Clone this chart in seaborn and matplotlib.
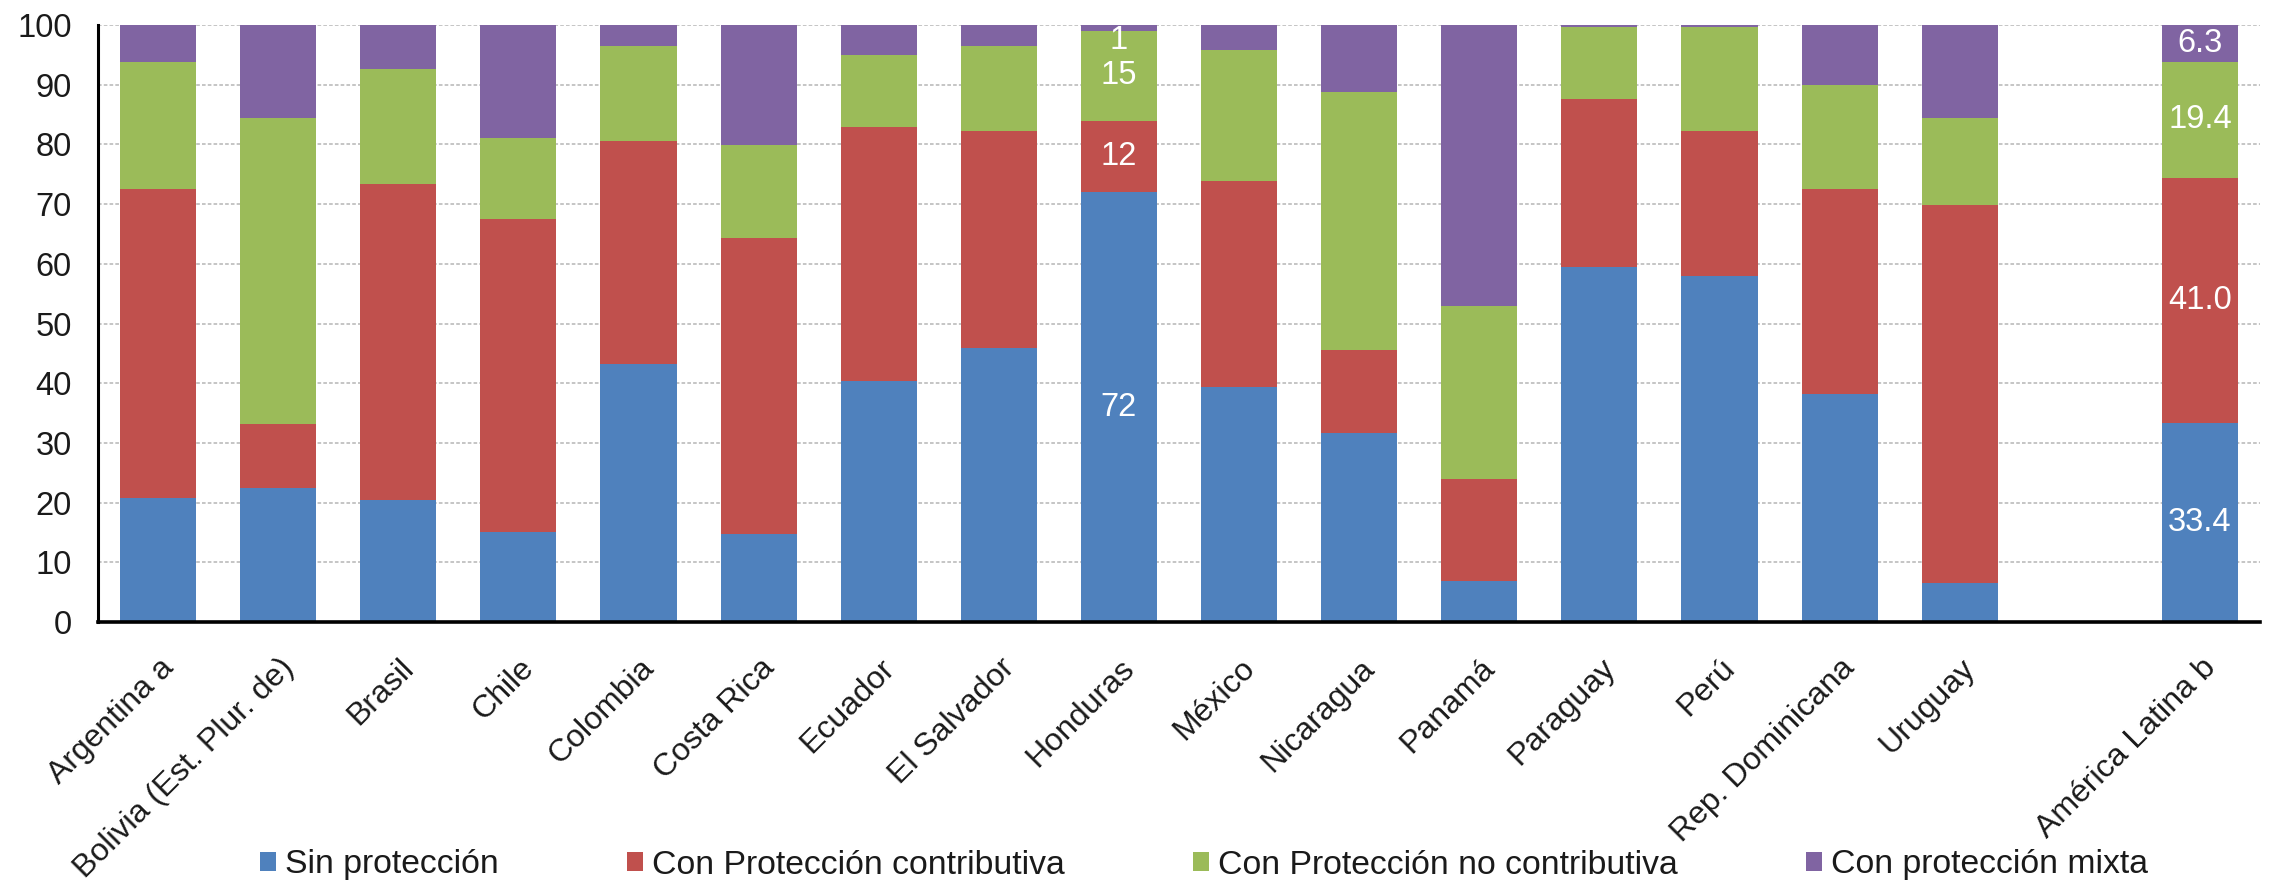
import numpy as np
import pandas as pd
import matplotlib
matplotlib.use("Agg")
import matplotlib.pyplot as plt
import matplotlib.transforms as mtransforms
from matplotlib.patches import Patch
import seaborn as sns

# Categories: countries, then the regional aggregate (shown after a blank slot)
countries = ["Argentina a", "Bolivia (Est. Plur. de)", "Brasil", "Chile", "Colombia",
             "Costa Rica", "Ecuador", "El Salvador", "Honduras", "México", "Nicaragua",
             "Panamá", "Paraguay", "Perú", "Rep. Dominicana", "Uruguay"]
region = "América Latina b"

series = ["Sin protección", "Con Protección contributiva",
          "Con Protección no contributiva", "Con protección mixta"]

# Shares (%) per category, last entry = América Latina b
sin_proteccion = [20.8, 22.4, 20.4, 15.0, 43.2, 14.7, 40.4, 45.9, 72, 39.4,
                  31.6, 6.9, 59.5, 57.9, 38.2, 6.6, 33.4]
contributiva = [51.7, 10.8, 53.0, 52.5, 37.4, 49.7, 42.5, 36.3, 12, 34.4,
                13.9, 17.0, 28.1, 24.3, 34.3, 63.3, 41.0]
no_contributiva = [21.3, 51.3, 19.3, 13.5, 15.9, 15.5, 12.0, 14.3, 15, 22.0,
                   43.3, 29.0, 12.0, 17.4, 17.4, 14.6, 19.4]
mixta = [6.2, 15.5, 7.3, 19.0, 3.5, 20.1, 5.1, 3.5, 1, 4.2,
         11.2, 47.1, 0.4, 0.4, 10.1, 15.5, 6.3]

colors = ["#4F81BD", "#C0504D", "#9BBB59", "#8064A2"]

labels = countries + [region]
# slot index on the x axis: countries side by side, one empty slot before the region
slots = list(range(len(countries))) + [len(countries) + 1]

values = [sin_proteccion, contributiva, no_contributiva, mixta]
rows = []
for s_name, vals in zip(series, values):
    for lab, slot, v in zip(labels, slots, vals):
        rows.append({"categoria": lab, "slot": slot, "serie": s_name, "valor": v})
df = pd.DataFrame(rows)

sns.set_theme(style="white")
plt.rcParams["font.family"] = ["Liberation Sans", "DejaVu Sans"]

TICK_FS = 23
LEG_FS = 24.3
VAL_FS = 23.5

W, H, DPI = 2272, 890, 100
fig = plt.figure(figsize=(W / DPI, H / DPI), dpi=DPI)
ax = fig.add_axes([98 / W, 1 - 622 / H, (2260 - 98) / W, (622 - 25) / H])

sns.histplot(data=df, x="slot", weights="valor", hue="serie",
             hue_order=series[::-1], palette=colors[::-1],
             multiple="stack", discrete=True, shrink=0.633,
             alpha=1, linewidth=0, edgecolor="none", legend=False, ax=ax)

ax.set_xlim(-0.5, slots[-1] + 0.5)
ax.set_ylim(0, 100)
ax.set_yticks(np.arange(0, 101, 10))
ax.set_xlabel("")
ax.set_ylabel("")

# dashed horizontal gridlines behind the bars
ax.set_axisbelow(True)
ax.yaxis.grid(True, color="#c0c0c0", linestyle=(0, (2.0, 1.2)), linewidth=1.3)
ax.xaxis.grid(False)

for side in ("top", "right"):
    ax.spines[side].set_visible(False)
ax.spines["left"].set_color("black")
ax.spines["left"].set_linewidth(2.2)
ax.spines["bottom"].set_color("black")
ax.spines["bottom"].set_linewidth(2.6)

ax.tick_params(axis="y", length=0, pad=19, labelsize=23.5, colors="#1a1a1a")
ax.tick_params(axis="x", length=0, pad=30, labelsize=TICK_FS, colors="#1a1a1a")

ax.set_xticks(slots)
ax.set_xticklabels(labels, rotation=45, ha="right", va="center",
                   rotation_mode="anchor")
shift = mtransforms.ScaledTranslation(11 / DPI, 0, fig.dpi_scale_trans)
for t in ax.get_xticklabels():
    t.set_transform(t.get_transform() + shift)

# value labels on Honduras and the regional aggregate
def label_stack(idx, fmt):
    base = 0.0
    for vals in values:
        v = vals[idx]
        mid = base + v / 2
        txt = fmt.format(v)
        if mid > 98.5:
            ax.text(slots[idx], 100, txt, ha="center", va="top",
                    color="white", fontsize=VAL_FS)
        else:
            ax.text(slots[idx], mid, txt, ha="center", va="center",
                    color="white", fontsize=VAL_FS)
        base += v

label_stack(labels.index("Honduras"), "{:.0f}")
label_stack(labels.index(region), "{:.1f}")

handles = [Patch(facecolor=c, edgecolor="none") for c in colors]
fig.legend(handles, series, loc="center", bbox_to_anchor=(1204 / W, 1 - 865 / H),
           ncol=4, frameon=False, fontsize=LEG_FS, handlelength=0.47, handleheight=0.47,
           handletextpad=0.27, columnspacing=3.8, labelcolor="#1a1a1a")

fig.savefig("out.png", dpi=DPI)
